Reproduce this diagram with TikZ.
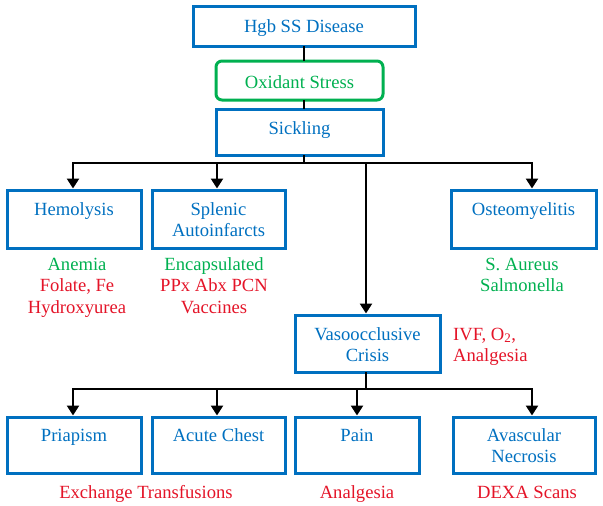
\documentclass[tikz,border=0pt]{standalone}
\usepackage{fontspec}
\setmainfont{Liberation Serif}
\usetikzlibrary{arrows.meta}
\definecolor{bblue}{RGB}{0,112,192}
\definecolor{bgreen}{RGB}{0,176,80}
\definecolor{bred}{RGB}{228,20,40}
\tikzset{
  box/.style={draw=bblue, line width=3pt, inner sep=0pt, outer sep=0pt, anchor=north west},
  gbox/.style={draw=bgreen, line width=3pt, rounded corners=6pt, inner sep=0pt, outer sep=0pt, anchor=north west},
  txt/.style={inner sep=0pt, anchor=base, align=center, font=\fontsize{18.6}{21.5}\selectfont},
  conn/.style={line width=2.8pt, black},
  arr/.style={conn, shorten >=1.5pt, -{Triangle[length=10pt,width=12pt]}},
}
\begin{document}
\begin{tikzpicture}[x=1pt,y=-1pt]
\useasboundingbox (0,0) rectangle (603,506);
% boxes
\node[box, minimum width=222pt, minimum height=40pt] (hgb) at (193,6) {};
\node[gbox, minimum width=167pt, minimum height=39pt] (oxi) at (216,61) {};
\node[box, minimum width=167pt, minimum height=46pt] (sick) at (216,109) {};
\node[box, minimum width=134pt, minimum height=58pt] (hemo) at (7,190) {};
\node[box, minimum width=133pt, minimum height=58pt] (splen) at (152,190) {};
\node[box, minimum width=145pt, minimum height=58pt] (osteo) at (451,190) {};
\node[box, minimum width=145pt, minimum height=57pt] (vaso) at (295,315) {};
\node[box, minimum width=134pt, minimum height=56pt] (pria) at (7,417) {};
\node[box, minimum width=133pt, minimum height=56pt] (chest) at (152,417) {};
\node[box, minimum width=124pt, minimum height=56pt] (pain) at (295,417) {};
\node[box, minimum width=142pt, minimum height=56pt] (avas) at (453,417) {};
% box texts (base = baseline of the last line)
\node[txt, text=bblue] (hgbT) at (304,32) {Hgb SS Disease};
\node[txt, text=bgreen] (oxiT) at (299.5,88) {Oxidant Stress};
\node[txt, text=bblue] (sickT) at (299.5,134) {Sickling};
\node[txt, text=bblue] (hemoT) at (74,215) {Hemolysis};
\node[txt, text=bblue] (splenT) at (218.5,236.5) {Splenic\\Autoinfarcts};
\node[txt, text=bblue] (osteoT) at (523.5,215) {Osteomyelitis};
\node[txt, text=bblue] (vasoT) at (367.5,361.5) {Vasoocclusive\\Crisis};
\node[txt, text=bblue] (priaT) at (74,441) {Priapism};
\node[txt, text=bblue] (chestT) at (218.5,441) {Acute Chest};
\node[txt, text=bblue] (painT) at (357,441) {Pain};
\node[txt, text=bblue] (avasT) at (524,462.5) {Avascular\\Necrosis};
% side texts
\node[txt] (hemoN) at (77,313) {\textcolor{bgreen}{Anemia}\\\textcolor{bred}{Folate, Fe}\\\textcolor{bred}{Hydroxyurea}};
\node[txt] (splenN) at (214,313) {\textcolor{bgreen}{Encapsulated}\\\textcolor{bred}{PPx Abx PCN}\\\textcolor{bred}{Vaccines}};
\node[txt, text=bgreen] (osteoN) at (522,291.5) {S. Aureus\\Salmonella};
\node[txt, text=bred, anchor=base west, align=left] (vasoN) at (453,361.5) {IVF, O\textsubscript{2},\\Analgesia};
\node[txt, text=bred] (exchN) at (146,498) {Exchange Transfusions};
\node[txt, text=bred] (painN) at (357,498) {Analgesia};
\node[txt, text=bred] (avasN) at (527,498) {DEXA Scans};
% connectors
\coordinate (j1) at (304,163);
\coordinate (j2) at (366,389);
\draw[conn] (hgb.south -| j1) -- (oxi.north -| j1);
\draw[conn] (oxi.south -| j1) -- (sick.north -| j1);
\draw[conn] (sick.south -| j1) -- (j1);
\draw[arr] (j1) -| ([xshift=-1pt]hemo.north);
\draw[arr] (j1) -| ([xshift=-1.5pt]splen.north);
\draw[arr] (j1) -| ([xshift=8.5pt]osteo.north);
\draw[arr] (j1) -| ([xshift=-1.5pt]vaso.north);
\draw[conn] (vaso.south -| j2) -- (j2);
\draw[arr] (j2) -| ([xshift=-1pt]pria.north);
\draw[arr] (j2) -| ([xshift=-1.5pt]chest.north);
\draw[arr] (j2) -| (pain.north);
\draw[arr] (j2) -| ([xshift=8pt]avas.north);
\end{tikzpicture}
\end{document}
